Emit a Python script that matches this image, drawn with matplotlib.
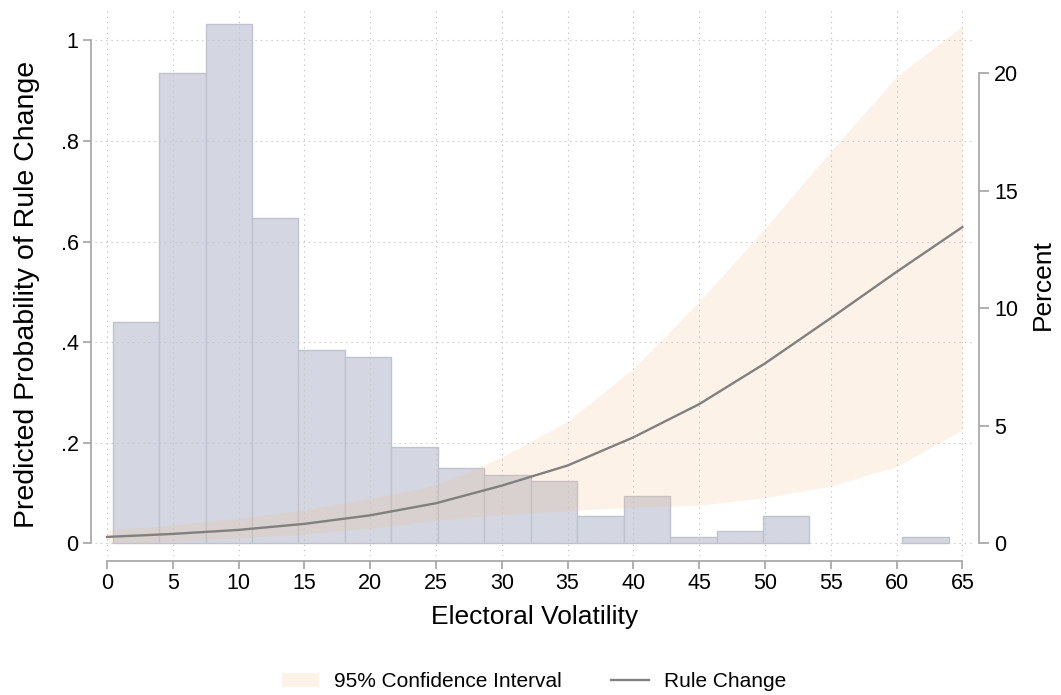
import numpy as np
import matplotlib
matplotlib.use("Agg")
import matplotlib.pyplot as plt

plt.rcParams['font.family'] = ['Liberation Sans', 'DejaVu Sans']

# Histogramme de la volatilité électorale (pourcentages, axe de droite)
bin_start = 0.43
bin_width = 3.53
hist_percent = [9.42, 20.03, 22.09, 13.83, 8.24, 7.94, 4.11, 3.20, 2.91,
                2.64, 1.16, 2.04, 0.26, 0.55, 1.16, 0.0, 0.0, 0.26]

# Probabilités prédites et IC 95% (axe de gauche)
volatility = [0, 5, 10, 15, 20, 25, 30, 35, 40, 45, 50, 55, 60, 65]
pred = [0.013, 0.019, 0.027, 0.039, 0.056, 0.080, 0.115, 0.155, 0.211,
        0.277, 0.358, 0.448, 0.540, 0.629]
ci_upper = [0.027, 0.037, 0.051, 0.067, 0.090, 0.116, 0.172, 0.243, 0.348,
            0.481, 0.627, 0.780, 0.928, 1.029]
ci_lower = [0.000, 0.004, 0.011, 0.019, 0.030, 0.046, 0.057, 0.065, 0.072,
            0.076, 0.091, 0.114, 0.153, 0.226]

left_ticks = [0, 0.2, 0.4, 0.6, 0.8, 1.0]
left_labels = ["0", ".2", ".4", ".6", ".8", "1"]
right_ticks = [0, 5, 10, 15, 20]
x_ticks = list(range(0, 70, 5))

px = 1 / 1.3889  # points par pixel (dpi 100)
spine_col = '#a3a3a3'

fig = plt.figure(figsize=(10.61, 6.95), dpi=100)
ax = fig.add_axes([95 / 1061, 0.2, 880 / 1061, 548 / 695])
ax2 = ax.twinx()
ax.set_zorder(ax2.get_zorder() + 1)
ax.patch.set_visible(False)

# histogramme (les classes vides ne sont pas dessinées)
edges = bin_start + bin_width * np.arange(len(hist_percent))
heights = np.array(hist_percent)
keep = heights > 0
ax2.bar(edges[keep], heights[keep], width=bin_width, align='edge',
        color='#d4d7e2', edgecolor='#bfc3d0', linewidth=1.0)

# IC et courbe
ax.fill_between(volatility, ci_lower, ci_upper, color='#f5b77a', alpha=0.17,
                linewidth=0, label='95% Confidence Interval')
ax.plot(volatility, pred, color='#808080', linewidth=1.7, label='Rule Change')

ylo, yhi = -0.0249, 1.0646
ax.set_ylim(ylo, yhi)
ratio = 21.40
ax2.set_ylim(ylo * ratio, yhi * ratio)
ax.set_xlim(-0.91, 65.96)

ax.set_xticks(x_ticks)
ax.set_yticks(left_ticks)
ax.set_yticklabels(left_labels)
ax2.set_yticks(right_ticks)

ax.grid(True, color='#c4c4c4', linewidth=0.8, linestyle=(0, (1.2, 3.6)))

for a in (ax, ax2):
    for s in a.spines.values():
        s.set_visible(False)
        s.set_color(spine_col)
        s.set_linewidth(1.2)

ax.spines['left'].set_visible(True)
ax.spines['left'].set_position(('outward', 4 * px))
ax.spines['left'].set_bounds(0, 1)
ax.spines['bottom'].set_visible(True)
ax.spines['bottom'].set_position(('outward', 5 * px))
ax.spines['bottom'].set_bounds(0, 65)
ax2.spines['right'].set_visible(True)
ax2.spines['right'].set_position(('outward', 4 * px))
ax2.spines['right'].set_bounds(0, 20)

ax.tick_params(axis='both', direction='out', length=6, width=1.2,
               color=spine_col, labelsize=15.5, pad=3)
ax2.tick_params(axis='y', direction='out', length=7, width=1.2,
                color=spine_col, labelsize=15.5, pad=4)

ax.set_xlabel("Electoral Volatility", fontsize=19)
ax.xaxis.set_label_coords(0.5, -0.09)
ax.set_ylabel("Predicted Probability of Rule Change", fontsize=20.5)
ax.yaxis.set_label_coords(-0.063, 0.478)
ax2.set_ylabel("Percent", fontsize=19)
ax2.yaxis.set_label_coords(1.063, 0.495)

fig.legend(loc='center', bbox_to_anchor=(0.503, 0.019), ncol=2, frameon=False,
           fontsize=15, handlelength=1.8, columnspacing=2.4, handletextpad=0.7)

fig.savefig("out.png", dpi=100)
